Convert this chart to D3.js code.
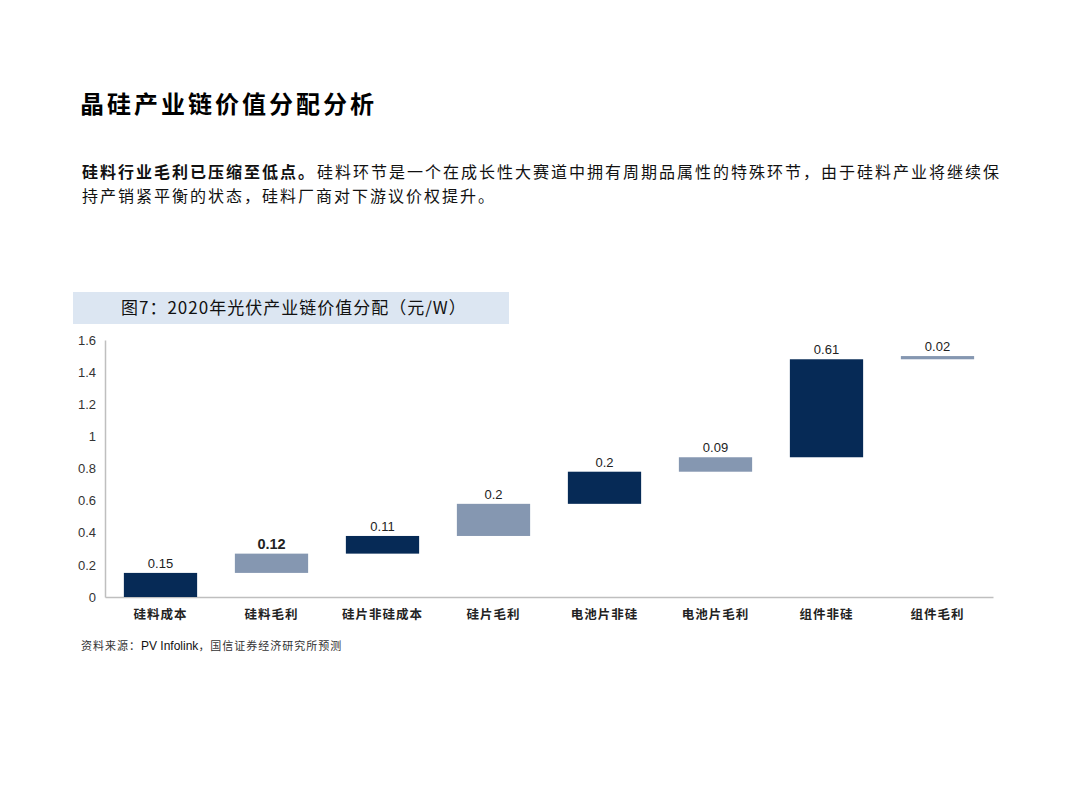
<!DOCTYPE html>
<html>
<head>
<meta charset="utf-8">
<script src="https://cdn.jsdelivr.net/npm/d3@7"></script>
<style>
  body { margin: 0; background: #fff; }
  svg { display: block; }
</style>
</head>
<body>
<svg id="chart" width="1080" height="810"></svg>
<script>
// data
var categories = ["硅料成本", "硅料毛利", "硅片非硅成本", "硅片毛利", "电池片非硅", "电池片毛利", "组件非硅", "组件毛利"];
var values = [0.15, 0.12, 0.11, 0.2, 0.2, 0.09, 0.61, 0.02];
var kinds = ["cost", "margin", "cost", "margin", "cost", "margin", "cost", "margin"];
var yTicks = [0, 0.2, 0.4, 0.6, 0.8, 1, 1.2, 1.4, 1.6];

var svg = d3.select("#chart");
var cjk = "'Noto Sans CJK SC', sans-serif";
var latin = "'Liberation Sans', Arial, sans-serif";

// page title + paragraph
svg.append("text")
    .attr("x", 80).attr("y", 113)
    .style("font-family", cjk).style("font-size", "24px").style("font-weight", "bold")
    .style("letter-spacing", "3px")
    .text("晶硅产业链价值分配分析");

// first line: bold lead sentence, then the rest placed after it
var lead = svg.append("text")
    .attr("x", 82).attr("y", 178)
    .style("font-family", cjk).style("font-size", "16px").style("letter-spacing", "2px")
    .style("font-weight", "bold").attr("fill", "#111")
    .text("硅料行业毛利已压缩至低点。");
var leadW = lead.node().getBBox().width;
svg.append("text")
    .attr("x", 82 + leadW + 1).attr("y", 178)
    .style("font-family", cjk).style("font-size", "16px").style("letter-spacing", "2px")
    .attr("fill", "#111")
    .text("硅料环节是一个在成长性大赛道中拥有周期品属性的特殊环节，由于硅料产业将继续保");
svg.append("text")
    .attr("x", 82).attr("y", 202)
    .style("font-family", cjk).style("font-size", "16px").style("letter-spacing", "2px")
    .attr("fill", "#111")
    .text("持产销紧平衡的状态，硅料厂商对下游议价权提升。");

// chart header band
svg.append("rect")
    .attr("x", 73).attr("y", 292).attr("width", 436).attr("height", 32)
    .attr("fill", "#dce6f2");
svg.append("text")
    .attr("x", 121).attr("y", 314)
    .style("font-family", cjk).style("font-size", "17px").style("letter-spacing", "1px")
    .attr("fill", "#111")
    .text("图7：2020年光伏产业链价值分配（元/W）");

// scales
var x = d3.scaleBand().domain(categories).range([105, 993]).paddingInner(0.34).paddingOuter(0.17);
var y = d3.scaleLinear().domain([0, 1.6]).range([597, 340]);

// waterfall starts
var ends = d3.cumsum(values);
var bars = categories.map(function (c, i) {
    return { cat: c, v: values[i], kind: kinds[i], y0: ends[i] - values[i], y1: ends[i] };
});

// y axis
var yAxis = svg.append("g")
    .attr("transform", "translate(105,0)")
    .call(d3.axisLeft(y).tickValues(yTicks).tickSize(0).tickPadding(9).tickFormat(d3.format("")));
yAxis.select(".domain").attr("stroke", "#bfbfbf").attr("stroke-width", 1.5);
yAxis.selectAll("text").style("font-family", latin).style("font-size", "13px").attr("fill", "#333");

// x axis
var xAxis = svg.append("g")
    .attr("transform", "translate(0,597)")
    .call(d3.axisBottom(x).tickSize(0).tickPadding(13));
xAxis.select(".domain").attr("stroke", "#bfbfbf").attr("stroke-width", 1.5);
xAxis.selectAll("text").style("font-family", cjk).style("font-size", "12.5px")
    .style("font-weight", "bold").style("letter-spacing", "1px").attr("fill", "#222");

// bars
var color = { cost: "#062a56", margin: "#8597b1" };
svg.append("g").selectAll("rect")
    .data(bars).enter().append("rect")
    .attr("x", function (d) { return x(d.cat); })
    .attr("width", x.bandwidth())
    .attr("y", function (d) { return y(d.y1); })
    .attr("height", function (d) { return Math.max(3, y(d.y0) - y(d.y1)); })
    .attr("fill", function (d) { return color[d.kind]; });

// value labels
svg.append("g").selectAll("text")
    .data(bars).enter().append("text")
    .attr("x", function (d) { return x(d.cat) + x.bandwidth() / 2; })
    .attr("y", function (d) { return y(d.y1) - 5; })
    .attr("text-anchor", "middle")
    .style("font-family", latin)
    .style("font-size", function (d, i) { return i === 1 ? "14.5px" : "13px"; })
    .style("font-weight", function (d, i) { return i === 1 ? "bold" : "normal"; })
    .attr("fill", "#222")
    .text(function (d) { return d.v; });

// source
var src = svg.append("text")
    .attr("x", 81).attr("y", 650)
    .style("font-family", cjk).style("font-size", "11px").style("letter-spacing", "1px")
    .attr("fill", "#333");
src.append("tspan").text("资料来源：");
src.append("tspan").style("font-family", latin).style("font-size", "12px").style("letter-spacing", "0px")
    .attr("fill", "#111").text("PV Infolink");
src.append("tspan").text("，国信证券经济研究所预测");
</script>
</body>
</html>
